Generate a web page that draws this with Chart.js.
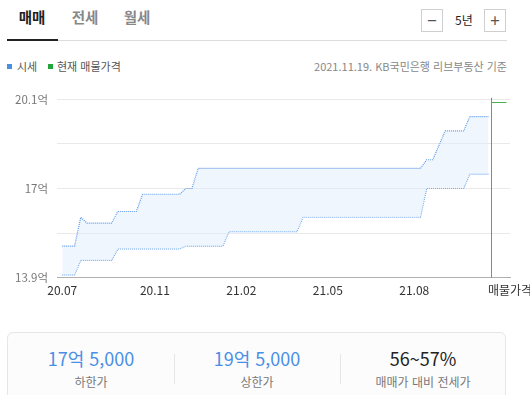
<!DOCTYPE html>
<html lang="ko">
<head>
<meta charset="utf-8">
<script src="https://cdn.jsdelivr.net/npm/chart.js@4.4.0/dist/chart.umd.min.js"></script>
<style>
  html, body { margin:0; padding:0; background:#fff; width:530px; height:395px; overflow:hidden;
    font-family: "Noto Sans CJK KR", "Noto Sans", sans-serif; }
  .abs { position:absolute; }
  .tab { position:absolute; top:6px; font-size:14.5px; font-weight:700; transform:translateX(-50%); }
  .btn { position:absolute; top:9px; width:22px; height:23px; border:1px solid #cfcfcf; box-sizing:border-box;
    color:#555; font-size:17px; line-height:20px; text-align:center; }
  .leg { position:absolute; top:58px; font-size:11px; color:#555; }
  .sq { position:absolute; width:5px; height:5px; top:64px; }
  .card { position:absolute; left:7px; top:332px; width:499px; height:90px; border:1px solid #e6e6e6;
    border-radius:6px; background:#fcfcfc; box-sizing:border-box; }
  .col { position:absolute; top:12px; width:166px; text-align:center; }
  .val { font-size:18px; line-height:26px; }
  .lab { font-size:12px; color:#777; line-height:18px; margin-top:2px; }
  .div { position:absolute; top:21px; width:1px; height:30px; background:#e6e6e6; }
</style>
</head>
<body>
<div class="tab" style="left:32px;color:#222;">매매</div>
<div class="tab" style="left:85px;color:#888;">전세</div>
<div class="tab" style="left:137px;color:#888;">월세</div>
<div class="abs" style="left:7px;top:39px;width:51px;height:2px;background:#222;"></div>
<div class="abs" style="left:58px;top:40px;width:449px;height:1px;background:#dcdcdc;"></div>
<div class="btn" style="left:421px;">−</div>
<div class="abs" style="left:455px;top:11px;font-size:12px;color:#222;">5년</div>
<div class="btn" style="left:484px;">+</div>

<div class="sq" style="left:7px;background:#4a90e2;"></div>
<div class="leg" style="left:17px;">시세</div>
<div class="sq" style="left:48px;background:#22a63a;"></div>
<div class="leg" style="left:57px;">현재 매물가격</div>
<div class="leg" style="right:23px;color:#888;">2021.11.19. KB국민은행 리브부동산 기준</div>

<canvas id="c" width="530" height="230" class="abs" style="left:0;top:80px;"></canvas>

<div class="card">
  <div class="col" style="left:0;"><div class="val" style="color:#4a8fe6;">17억 5,000</div><div class="lab">하한가</div></div>
  <div class="div" style="left:166px;"></div>
  <div class="col" style="left:166px;"><div class="val" style="color:#4a8fe6;">19억 5,000</div><div class="lab">상한가</div></div>
  <div class="div" style="left:332px;"></div>
  <div class="col" style="left:332px;"><div class="val" style="color:#222;">56~57%</div><div class="lab">매매가 대비 전세가</div></div>
</div>

<script>
// Weekly KB 시세 (억원), 2020.07 ~ 2021.11.19
const upperPrice = [
  15.0, 15.0, 15.0, 16.0, 15.8, 15.8, 15.8, 15.8, 15.8, 16.2,
  16.2, 16.2, 16.2, 16.8, 16.8, 16.8, 16.8, 16.8, 16.8, 16.8,
  17.0, 17.0, 17.7, 17.7, 17.7, 17.7, 17.7, 17.7, 17.7, 17.7,
  17.7, 17.7, 17.7, 17.7, 17.7, 17.7, 17.7, 17.7, 17.7, 17.7,
  17.7, 17.7, 17.7, 17.7, 17.7, 17.7, 17.7, 17.7, 17.7, 17.7,
  17.7, 17.7, 17.7, 17.7, 17.7, 17.7, 17.7, 17.7, 17.7, 18.0,
  18.0, 18.5, 19.0, 19.0, 19.0, 19.0, 19.5, 19.5, 19.5, 19.5
];
const lowerPrice = [
  14.0, 14.0, 14.0, 14.5, 14.5, 14.5, 14.5, 14.5, 14.5, 14.9,
  14.9, 14.9, 14.9, 14.9, 14.9, 14.9, 14.9, 14.9, 14.9, 14.9,
  15.0, 15.0, 15.0, 15.0, 15.0, 15.0, 15.0, 15.5, 15.5, 15.5,
  15.5, 15.5, 15.5, 15.5, 15.5, 15.5, 15.5, 15.5, 15.5, 16.0,
  16.0, 16.0, 16.0, 16.0, 16.0, 16.0, 16.0, 16.0, 16.0, 16.0,
  16.0, 16.0, 16.0, 16.0, 16.0, 16.0, 16.0, 16.0, 16.0, 17.0,
  17.0, 17.0, 17.0, 17.0, 17.0, 17.0, 17.5, 17.5, 17.5, 17.5
];
const listingPrice = [20.0];
const xTickWeeks = [0, 15, 29, 43, 57];
const xTickLabels = ['20.07', '20.11', '21.02', '21.05', '21.08'];
const listingLabel = '매물가격';
const yTickValues = [13.9, 15.45, 17, 18.55, 20.1];
const yTickLabels = ['13.9억', '', '17억', '', '20.1억'];

const toPts = arr => arr.map((v, i) => ({ x: i, y: v }));
const X_MIN = -0.85, X_MAX = 72.5;

const listingPlugin = {
  id: 'listing',
  afterDatasetsDraw(chart) {
    const { ctx, chartArea, scales } = chart;
    const xs = scales.x, ys = scales.y;
    const lx = Math.round(xs.getPixelForValue(upperPrice.length - 1 + 0.42)) + 0.5;
    const ly = Math.round(ys.getPixelForValue(listingPrice[0])) + 0.5;
    ctx.save();
    ctx.strokeStyle = '#4caf50';
    ctx.lineWidth = 1;
    ctx.beginPath();
    ctx.moveTo(lx, chartArea.top - 1.5);
    ctx.lineTo(lx, chartArea.bottom);
    ctx.moveTo(lx, ly);
    ctx.lineTo(chartArea.right - 3.5, ly);
    ctx.stroke();
    ctx.restore();
  }
};

new Chart(document.getElementById('c'), {
  type: 'line',
  data: {
    datasets: [
      { data: toPts(upperPrice), borderColor: '#5b9aea', borderWidth: 1.2, borderDash: [1, 1],
        pointRadius: 0, fill: '+1', backgroundColor: 'rgba(226,238,251,0.5)', tension: 0 },
      { data: toPts(lowerPrice), borderColor: '#5b9aea', borderWidth: 1.2, borderDash: [1, 1],
        pointRadius: 0, fill: false, tension: 0 }
    ]
  },
  options: {
    responsive: false,
    devicePixelRatio: 1,
    animation: false,
    layout: { padding: { top: 19.3, left: 0, right: 20, bottom: 0 } },
    plugins: { legend: { display: false }, tooltip: { enabled: false } },
    scales: {
      x: {
        type: 'linear', min: X_MIN, max: X_MAX,
        afterBuildTicks(s) {
          s.ticks = xTickWeeks.map(v => ({ value: v })).concat([{ value: X_MAX }]);
        },
        afterFit(s) { s.height = 32.3; s.paddingLeft = 0; s.paddingRight = 0; },
        grid: { display: false, drawTicks: false },
        border: { display: true, color: '#b0b0b0', width: 1 },
        ticks: {
          autoSkip: false, maxRotation: 0, padding: 6, color: '#333',
          font: { family: '"Noto Sans CJK KR"', size: 12 },
          callback: (v, i) => (i < xTickLabels.length ? xTickLabels[i] : listingLabel)
        }
      },
      y: {
        min: yTickValues[0], max: yTickValues[yTickValues.length - 1],
        afterBuildTicks(s) { s.ticks = yTickValues.map(v => ({ value: v })); },
        afterFit(s) { s.width = 57; },
        grid: { drawTicks: false, color: (c) => (c.index === 0 ? '#b0b0b0' : '#e9e9e9'), lineWidth: 1 },
        border: { display: false },
        ticks: {
          padding: 9, color: '#777',
          font: { family: '"Noto Sans CJK KR"', size: 11.5 },
          callback: (v, i) => yTickLabels[i]
        }
      }
    }
  },
  plugins: [listingPlugin]
});
</script>
</body>
</html>
